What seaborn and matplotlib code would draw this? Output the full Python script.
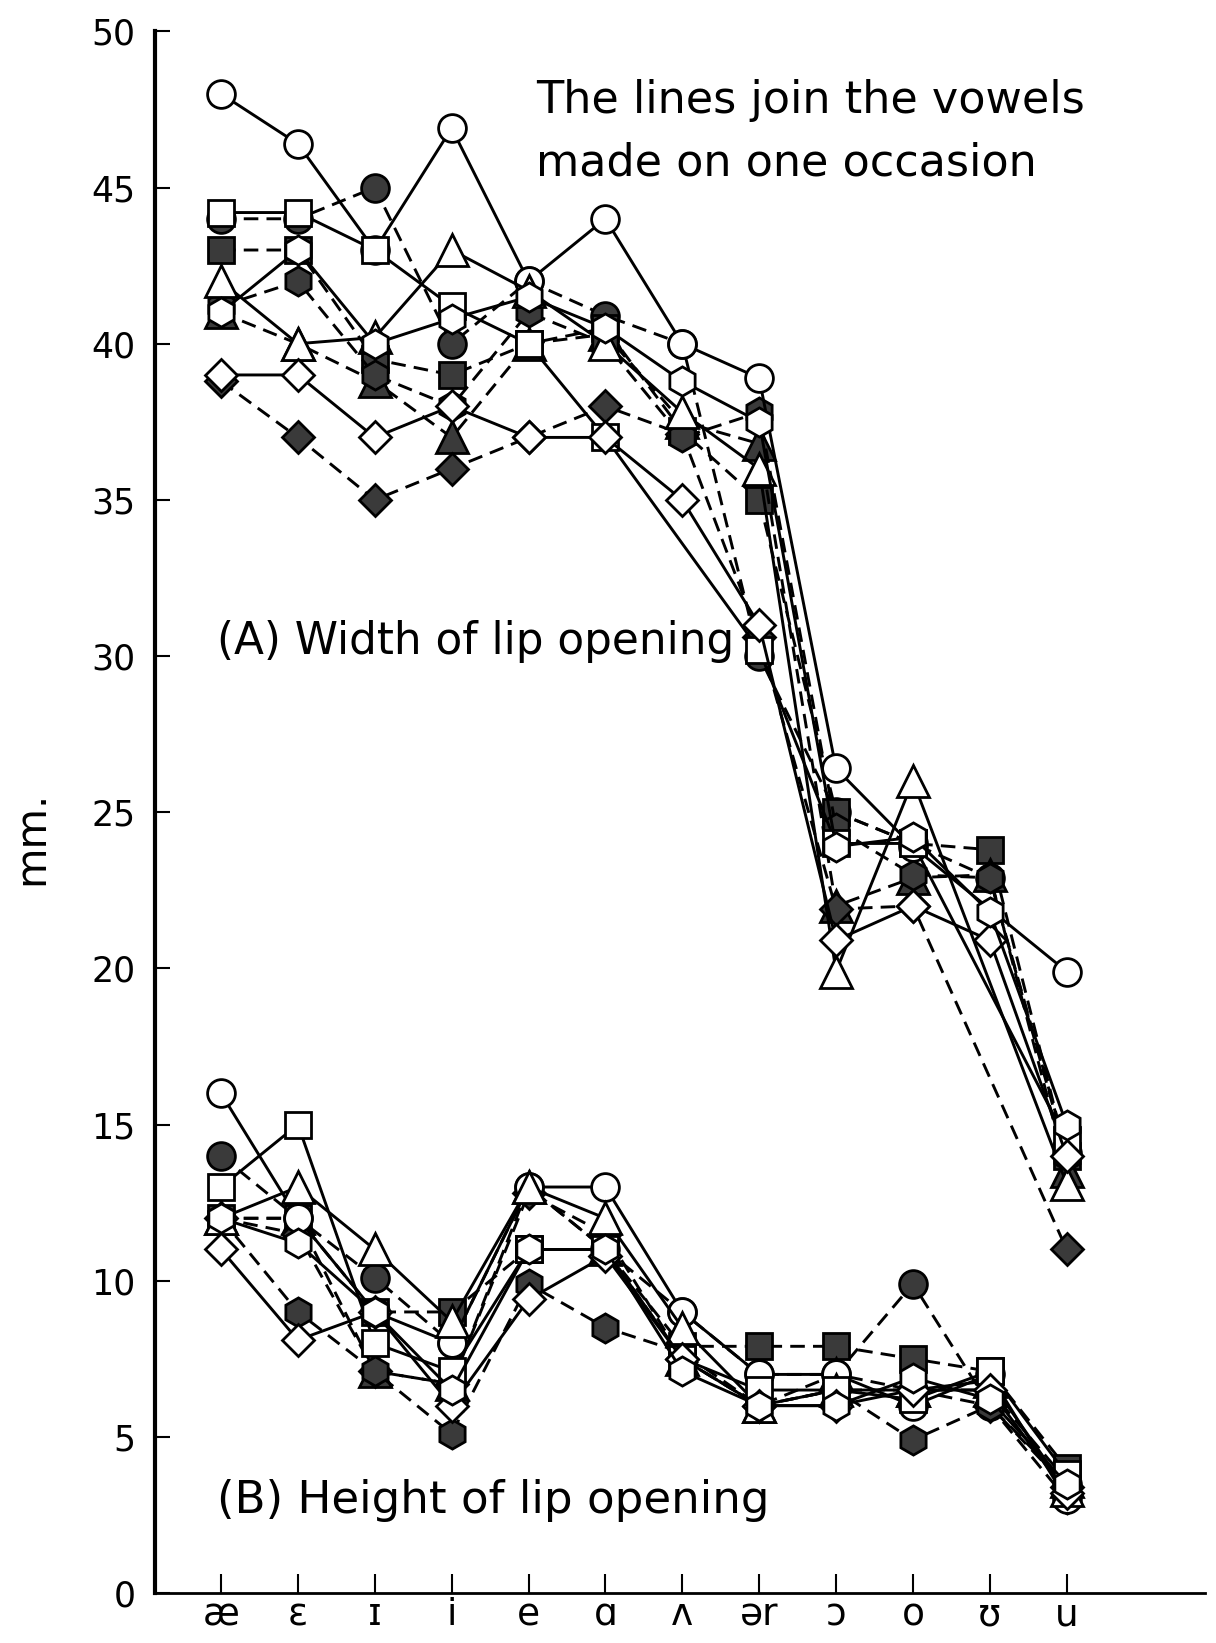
import numpy as np
import pandas as pd
import matplotlib
matplotlib.use("Agg")
import matplotlib.pyplot as plt
import seaborn as sns

# ---------------- data ----------------
vowels = ["æ", "ɛ", "ɪ", "i", "e", "ɑ", "ʌ", "ər", "ɔ", "o", "ʊ", "u"]
y_ticks = [0, 5, 10, 15, 20, 25, 30, 35, 40, 45, 50]

occasions = ["open circle", "open triangle", "open square", "open diamond", "open hexagon",
             "filled circle", "filled square", "filled triangle", "filled diamond", "filled hexagon"]

nan = np.nan
# (A) width of lip opening, mm
width_open_circle     = [48.0, 46.4, 43.0, 46.9, 42.0, 44.0, 40.0, 38.9, 26.4, 23.9, nan, 19.9]
width_open_triangle   = [42.0, 40.0, 40.2, 43.0, 41.7, 40.0, 37.8, 36.0, 19.9, 26.0, nan, 13.1]
width_open_square     = [44.2, 44.2, 43.0, 41.2, 40.0, 37.0, nan, 30.2, 24.0, 24.0, nan, 14.5]
width_open_diamond    = [39.0, 39.0, 37.0, 38.0, 37.0, 37.0, 35.0, 31.0, 20.9, 22.0, 20.9, 14.0]
width_open_hexagon    = [41.0, 43.0, 40.0, 40.8, 41.5, 40.5, 38.8, 37.5, 23.9, 24.2, 21.8, 15.0]
width_filled_circle   = [44.0, 44.0, 45.0, 40.0, 42.0, 40.9, 40.0, 30.0, 25.0, 24.0, 22.9, 14.1]
width_filled_square   = [43.0, 43.0, 39.5, 39.0, 40.0, 40.5, 37.2, 35.0, 25.0, 24.0, 23.8, 14.0]
width_filled_triangle = [41.0, 40.0, 38.8, 37.0, 40.0, 40.3, 37.5, 36.8, 22.0, 22.9, 23.0, 13.5]
width_filled_diamond  = [38.8, 37.0, 35.0, 36.0, 37.0, 38.0, 37.1, 30.6, 21.9, 22.0, nan, 11.0]
width_filled_hexagon  = [41.2, 42.0, 39.0, 38.0, 41.0, 40.0, 37.0, 37.8, 24.5, 23.0, 22.9, 14.0]

# (B) height of lip opening, mm
height_open_circle     = [16.0, 12.0, 9.0, 8.0, 13.0, 13.0, 9.0, 7.0, 7.0, 6.0, 7.0, 3.0]
height_open_triangle   = [12.0, 13.0, 11.0, 8.7, 13.0, 12.0, 8.5, 6.0, 6.5, 6.5, 6.8, 3.3]
height_open_square     = [13.0, 15.0, 8.0, 7.1, 11.0, 11.0, 7.5, 6.5, 6.5, 6.2, 7.1, 3.8]
height_open_diamond    = [11.0, 8.1, 9.0, 6.0, 9.4, 10.8, 7.5, 6.0, 6.0, 6.5, 6.5, 3.2]
height_open_hexagon    = [12.0, 11.2, 9.0, 6.5, 11.0, 11.0, 7.1, 6.0, 6.0, 6.9, 6.2, 3.5]
height_filled_circle   = [14.0, 12.0, 10.1, 8.0, 13.0, 11.0, 9.0, 7.0, 7.0, 9.9, 6.0, 3.5]
height_filled_square   = [12.0, 12.0, 9.0, 9.0, 11.0, 11.0, 7.9, 7.9, 7.9, 7.5, 7.1, 4.0]
height_filled_triangle = [12.0, 12.0, 7.1, 6.7, 13.0, 11.0, 7.5, 6.0, 7.0, 6.5, 6.5, 3.6]
height_filled_diamond  = [12.0, 11.5, 7.1, 6.7, 12.8, 11.5, 7.5, 6.0, 6.5, 6.5, 6.0, 3.4]
height_filled_hexagon  = [12.0, 9.0, 7.1, 5.1, 9.9, 8.5, 7.7, 6.0, 6.5, 4.9, 6.0, 3.0]

width_series = [width_open_circle, width_open_triangle, width_open_square, width_open_diamond,
                width_open_hexagon, width_filled_circle, width_filled_square,
                width_filled_triangle, width_filled_diamond, width_filled_hexagon]
height_series = [height_open_circle, height_open_triangle, height_open_square, height_open_diamond,
                 height_open_hexagon, height_filled_circle, height_filled_square,
                 height_filled_triangle, height_filled_diamond, height_filled_hexagon]

# ---------------- style ----------------
sns.set_style("ticks")
plt.rcParams["font.family"] = ["DejaVu Sans"]
for k in ("text.color", "axes.labelcolor", "xtick.color", "ytick.color", "axes.edgecolor"):
    plt.rcParams[k] = "black"

marker_of = {"circle": "o", "triangle": "^", "square": "s", "diamond": "D", "hexagon": "h"}
size_of = {"circle": 20, "triangle": 23, "square": 19, "diamond": 16, "hexagon": 21}
FILL = "#3a3a3a"

rows = []
for measure, group in (("width", width_series), ("height", height_series)):
    for occ, vals in zip(occasions, group):
        for i, v in enumerate(vals):
            rows.append({"measure": measure, "occasion": occ, "pos": i, "mm": v})
df = pd.DataFrame(rows).dropna()

fig = plt.figure(figsize=(12.16, 16.43), dpi=100)
ax = fig.add_axes([0.1275, 0.0304, 0.8635, 0.9505])

for measure in ("width", "height"):
    for occ in occasions:
        sub = df[(df.measure == measure) & (df.occasion == occ)]
        kind, shape = occ.split()
        filled = kind == "filled"
        sns.lineplot(data=sub, x="pos", y="mm", ax=ax, color="black",
                     lw=2.1, sort=False, estimator=None,
                     linestyle=(0, (5, 2.8)) if filled else "-",
                     marker=marker_of[shape], markersize=size_of[shape],
                     markerfacecolor=FILL if filled else "white",
                     markeredgecolor="black", markeredgewidth=2.0,
                     zorder=3 if filled else 4, clip_on=False)

ax.set_xlim(-0.858, 12.8)
ax.set_ylim(0, 50)
ax.set_yticks(y_ticks)
ax.set_yticklabels([str(t) for t in y_ticks], fontsize=25)
ax.set_xticks(range(len(vowels)))
ax.set_xticklabels(vowels, fontsize=27)
ax.tick_params(axis="y", direction="in", length=11, width=1.5, pad=14)
ax.tick_params(axis="x", direction="in", length=14, width=1.5, pad=3)
ax.set_xlabel("")
ax.set_ylabel("")
sns.despine(ax=ax)
ax.spines["left"].set_linewidth(3.0)
ax.spines["bottom"].set_linewidth(2.0)
ax.spines["left"].set_bounds(0, 50)

fig.text(0.0255, 0.49, "mm.", rotation=90, fontsize=30, ha="center", va="center")

ax.text(4.10, 47.8, "The lines join the vowels", fontsize=32, ha="left", va="center")
ax.text(4.10, 45.8, "made on one occasion", fontsize=32, ha="left", va="center")
ax.text(-0.05, 30.45, "(A) Width of lip opening", fontsize=31.5, ha="left", va="center")
ax.text(-0.05, 2.95, "(B) Height of lip opening", fontsize=32.5, ha="left", va="center")

fig.savefig("out.png", dpi=100)
